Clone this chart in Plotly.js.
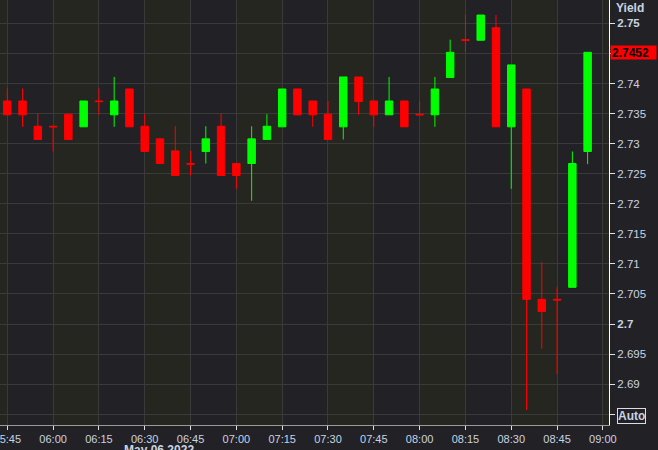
<!DOCTYPE html>
<html>
<head>
<meta charset="utf-8">
<script src="https://cdn.plot.ly/plotly-3.0.1.min.js"></script>
<style>
  html, body { margin: 0; padding: 0; background: #222226; }
  #chart { width: 658px; height: 450px; }
</style>
</head>
<body>
<div id="chart"></div>
<script>
// ---- Data (US 10Y yield, 5-minute candles, May 06 2022) ----
var times = [
  '2022-05-06 05:45', '2022-05-06 05:50', '2022-05-06 05:55', '2022-05-06 06:00',
  '2022-05-06 06:05', '2022-05-06 06:10', '2022-05-06 06:15', '2022-05-06 06:20',
  '2022-05-06 06:25', '2022-05-06 06:30', '2022-05-06 06:35', '2022-05-06 06:40',
  '2022-05-06 06:45', '2022-05-06 06:50', '2022-05-06 06:55', '2022-05-06 07:00',
  '2022-05-06 07:05', '2022-05-06 07:10', '2022-05-06 07:15', '2022-05-06 07:20',
  '2022-05-06 07:25', '2022-05-06 07:30', '2022-05-06 07:35', '2022-05-06 07:40',
  '2022-05-06 07:45', '2022-05-06 07:50', '2022-05-06 07:55', '2022-05-06 08:00',
  '2022-05-06 08:05', '2022-05-06 08:10', '2022-05-06 08:15', '2022-05-06 08:20',
  '2022-05-06 08:25', '2022-05-06 08:30', '2022-05-06 08:35', '2022-05-06 08:40',
  '2022-05-06 08:45', '2022-05-06 08:50', '2022-05-06 08:55'
];
var openVals = [
  2.7371, 2.7371, 2.7329, 2.7329, 2.7349, 2.7328, 2.7371, 2.7348,
  2.7391, 2.7329, 2.7308, 2.7288, 2.7267, 2.7287, 2.7329, 2.7267,
  2.7267, 2.7307, 2.7328, 2.7391, 2.7371, 2.7349, 2.7328, 2.7411,
  2.7371, 2.7348, 2.7371, 2.7349, 2.7348, 2.7410, 2.7473, 2.7472,
  2.7493, 2.7328, 2.7391, 2.7041, 2.7041, 2.7061, 2.7287
];
var highVals = [
  2.7392, 2.7392, 2.7350, 2.7329, 2.7349, 2.7371, 2.7392, 2.7411,
  2.7391, 2.7350, 2.7308, 2.7329, 2.7288, 2.7329, 2.7350, 2.7267,
  2.7329, 2.7349, 2.7391, 2.7391, 2.7371, 2.7371, 2.7411, 2.7411,
  2.7371, 2.7411, 2.7371, 2.7371, 2.7411, 2.7473, 2.7514, 2.7514,
  2.7514, 2.7431, 2.7391, 2.7103, 2.7061, 2.7287, 2.7452
];
var lowVals = [
  2.7348, 2.7328, 2.7307, 2.7287, 2.7307, 2.7328, 2.7348, 2.7328,
  2.7328, 2.7287, 2.7267, 2.7247, 2.7247, 2.7267, 2.7247, 2.7225,
  2.7205, 2.7307, 2.7328, 2.7348, 2.7328, 2.7307, 2.7307, 2.7348,
  2.7328, 2.7348, 2.7328, 2.7348, 2.7328, 2.7410, 2.7452, 2.7472,
  2.7328, 2.7225, 2.6857, 2.6959, 2.6917, 2.7061, 2.7266
];
var closeVals = [
  2.7348, 2.7348, 2.7307, 2.7328, 2.7307, 2.7371, 2.7370, 2.7371,
  2.7328, 2.7287, 2.7267, 2.7247, 2.7266, 2.7308, 2.7247, 2.7247,
  2.7308, 2.7329, 2.7391, 2.7348, 2.7348, 2.7307, 2.7411, 2.7370,
  2.7348, 2.7371, 2.7328, 2.7348, 2.7391, 2.7452, 2.7472, 2.7514,
  2.7328, 2.7431, 2.7041, 2.7021, 2.7040, 2.7267, 2.7452
];

// axis ticks
var yTickVals = [2.685, 2.69, 2.695, 2.7, 2.705, 2.71, 2.715, 2.72, 2.725, 2.73, 2.735, 2.74, 2.745, 2.75];
var yTickText = ['', '2.69', '2.695', '<b>2.7</b>', '2.705', '2.71', '2.715', '2.72', '2.725', '2.73', '2.735', '2.74', '', '<b>2.75</b>'];
var xTickVals = ['2022-05-06 05:45', '2022-05-06 06:00', '2022-05-06 06:15', '2022-05-06 06:30',
  '2022-05-06 06:45', '2022-05-06 07:00', '2022-05-06 07:15', '2022-05-06 07:30',
  '2022-05-06 07:45', '2022-05-06 08:00', '2022-05-06 08:15', '2022-05-06 08:30',
  '2022-05-06 08:45', '2022-05-06 09:00'];
var xTickText = ['05:45', '06:00', '06:15', '06:30', '06:45', '07:00', '07:15', '07:30',
  '07:45', '08:00', '08:15', '08:30', '08:45', '09:00'];
// alternating shaded background bands (start, end)
var bandStarts = ['2022-05-06 05:30', '2022-05-06 06:00', '2022-05-06 06:30', '2022-05-06 07:00',
  '2022-05-06 07:30', '2022-05-06 08:00', '2022-05-06 08:30', '2022-05-06 09:00'];
var bandEnds = ['2022-05-06 05:45', '2022-05-06 06:15', '2022-05-06 06:45', '2022-05-06 07:15',
  '2022-05-06 07:45', '2022-05-06 08:15', '2022-05-06 08:45', '2022-05-06 09:15'];
var dateLabel = 'May 06 2022';
var axisName = 'Yield';

var TXT = '#c9d3e2';
var FONT = 'Liberation Sans, Arial, sans-serif';

var trace = {
  type: 'candlestick',
  x: times,
  open: openVals,
  high: highVals,
  low: lowVals,
  close: closeVals,
  increasing: { line: { color: '#00ff00', width: 1 }, fillcolor: '#00ff00' },
  decreasing: { line: { color: '#ff0000', width: 1 }, fillcolor: '#ff0000' },
  whiskerwidth: 0,
  hoverinfo: 'skip',
  showlegend: false
};

var shapes = bandStarts.map(function (s, i) {
  return {
    type: 'rect', xref: 'x', yref: 'paper', x0: s, x1: bandEnds[i], y0: 0, y1: 1,
    fillcolor: '#24261f', line: { width: 0 }, layer: 'below'
  };
});

var lastClose = closeVals[closeVals.length - 1];

var layout = {
  width: 658, height: 450,
  margin: { l: 0, r: 49, t: 0, b: 25, pad: 0 },
  paper_bgcolor: '#222226',
  plot_bgcolor: '#222226',
  font: { family: FONT, size: 11, color: TXT },
  showlegend: false,
  hovermode: false,
  dragmode: false,
  xaxis: {
    type: 'date',
    range: ['2022-05-06 05:42:37', '2022-05-06 09:02:00'],
    tickmode: 'array', tickvals: xTickVals, ticktext: xTickText,
    ticks: 'outside', ticklen: 4, tickcolor: '#e0e0e0', tickwidth: 1,
    ticklabeloverflow: 'allow',
    showgrid: true, gridcolor: '#3a3a3b', gridwidth: 1,
    showline: true, linecolor: '#9a9a9a', linewidth: 1,
    mirror: true,
    tickfont: { family: FONT, size: 11, color: TXT },
    rangeslider: { visible: false },
    fixedrange: true, zeroline: false
  },
  yaxis: {
    side: 'right',
    range: [2.6832, 2.7539],
    tickmode: 'array', tickvals: yTickVals, ticktext: yTickText,
    ticks: 'outside', ticklen: 5, tickcolor: '#e0e0e0', tickwidth: 1,
    showgrid: true, gridcolor: '#3a3a3b', gridwidth: 1,
    showline: true, linecolor: '#ffffff', linewidth: 1,
    tickfont: { family: FONT, size: 11.5, color: TXT },
    fixedrange: true, zeroline: false
  },
  shapes: shapes,
  annotations: [
    {
      text: '<b>' + axisName + '</b>', xref: 'paper', yref: 'paper', x: 1, y: 1,
      xanchor: 'left', yanchor: 'top', xshift: 5, yshift: 1, showarrow: false,
      font: { family: FONT, size: 12, color: TXT }
    },
    {
      text: '<b>' + lastClose.toFixed(4) + '</b>', xref: 'paper', yref: 'y', x: 1, y: lastClose,
      xanchor: 'left', yanchor: 'middle', xshift: 1, showarrow: false,
      bgcolor: '#ff0000', borderpad: 1, width: 43, height: 11, align: 'left',
      font: { family: FONT, size: 12, color: '#000000' }
    },
    {
      text: '<b>Auto</b>', xref: 'paper', yref: 'paper', x: 1, y: 0,
      xanchor: 'left', yanchor: 'bottom', xshift: 8, yshift: 1, showarrow: false,
      bordercolor: '#d8dde6', borderwidth: 1, borderpad: 0,
      font: { family: FONT, size: 12, color: TXT }
    },
    {
      text: '<b>' + dateLabel + '</b>', xref: 'paper', yref: 'paper', x: 159 / 609, y: 0,
      xanchor: 'center', yanchor: 'top', yshift: -16, showarrow: false,
      font: { family: FONT, size: 12, color: TXT }
    }
  ]
};

Plotly.newPlot('chart', [trace], layout, { displayModeBar: false, staticPlot: true });
</script>
</body>
</html>
